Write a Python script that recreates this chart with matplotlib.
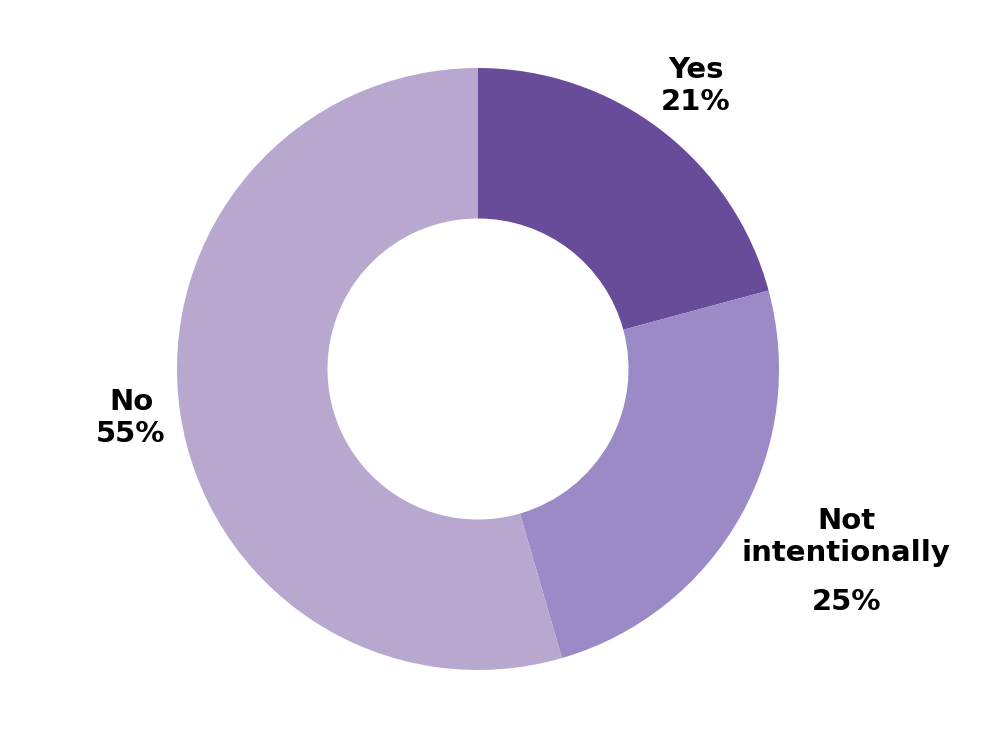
import matplotlib.pyplot as plt

# donut data
labels = ['Yes', 'Not intentionally', 'No']
values = [20.8, 24.7, 54.5]
pct_labels = ['21%', '25%', '55%']
colors = ['#684c9a', '#9b8ac6', '#b8a8d0']

fig = plt.figure(figsize=(10, 7.5), dpi=100)
ax = fig.add_axes([0, 0, 1, 1])

R = 301.0
cx, cy = 478, 369

ax.pie(values, colors=colors, startangle=90, counterclock=False,
       radius=1.0, wedgeprops=dict(width=0.5, edgecolor='none'), frame=True)
ax.set_xlim(-cx / R, (1000 - cx) / R)
ax.set_ylim(-(750 - cy) / R, cy / R)
ax.set_aspect('auto')
ax.axis('off')


def px(x, y):
    return (x - cx) / R, (cy - y) / R


font = dict(fontsize=21, fontweight='bold', color='black',
            family=['DejaVu Sans'], ha='center', va='center')

ax.text(*px(696, 86), labels[0] + '\n' + pct_labels[0], linespacing=1.15, **font)
ax.text(*px(846, 537), 'Not\nintentionally', linespacing=1.15, **font)
ax.text(*px(846, 602), pct_labels[1], **font)
ax.text(*px(131, 418), labels[2] + '\n' + pct_labels[2], linespacing=1.15, **font)

fig.savefig('out.png', dpi=100, facecolor='white')
